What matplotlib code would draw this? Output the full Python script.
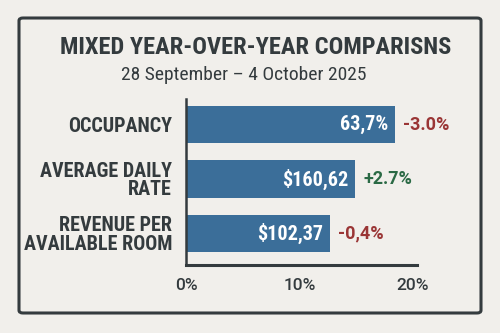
import matplotlib
matplotlib.use("Agg")
import matplotlib.pyplot as plt
from matplotlib import font_manager
from matplotlib.patches import FancyBboxPatch
from matplotlib.transforms import ScaledTranslation

categories = ["OCCUPANCY", "AVERAGE DAILY\nRATE", "REVENUE PER\nAVAILABLE ROOM"]
bar_lengths = [18.4, 14.9, 12.7]
value_labels = ["63,7%", "$160,62", "$102,37"]
change_labels = ["-3.0%", "+2.7%", "-0,4%"]
change_signs = [-1, 1, -1]
xticks = [0, 10, 20]
xtick_labels = ["0%", "10%", "20%"]
title = "MIXED YEAR-OVER-YEAR COMPARISNS"
subtitle = "28 September \u2013 4 October 2025"

names = {f.name for f in font_manager.fontManager.ttflist}
def pick(prefs):
    for p in prefs:
        if p in names:
            return p
    return "DejaVu Sans"
cond = pick(["Roboto Condensed", "Fira Sans Condensed", "IBM Plex Sans Condensed",
             "Barlow Semi Condensed", "PT Sans Narrow", "Archivo Narrow",
             "Liberation Sans Narrow"])
reg = pick(["Roboto", "Noto Sans"])

BG = "#f1efeb"
DARK = "#343b3e"
BLUE = "#3b6e99"
RED = "#9a3535"
GREEN = "#2b6a45"

fig = plt.figure(figsize=(5, 3.33), dpi=100, facecolor=BG)
frame = FancyBboxPatch((19/500, 1-313/333), (481-19)/500, (313-18)/333,
                       boxstyle="round,pad=0,rounding_size=0.008",
                       transform=fig.transFigure, fill=False, edgecolor=DARK, linewidth=2.2)
fig.patches.append(frame)

fig.text(0.512, 1-47.5/333, title, ha="center", va="center", fontsize=17.6,
         fontweight="bold", family=cond, color=DARK)
fig.text(0.488, 1-74.5/333, subtitle, ha="center", va="center", fontsize=14,
         family=cond, color=DARK)

ax = fig.add_axes([186/500, 68/333, (417-186)/500, (234-68)/333])
ax.set_facecolor(BG)
ypos = list(range(len(categories)))
ax.barh(ypos, bar_lengths, height=0.69, color=BLUE, left=0)
ax.set_xlim(0, 20.35)
ax.set_ylim(2.58, -0.47)
ax.set_yticks(ypos)
ax.set_yticklabels(categories, fontsize=14.5, fontweight="bold", family=cond,
                   color=DARK, linespacing=0.95)
ax.set_xticks(xticks)
ax.set_xticklabels(xtick_labels, fontsize=12.5, family=reg, fontweight="medium", color=DARK)
off = ScaledTranslation(3/100, 0, fig.dpi_scale_trans)
for lab in ax.get_xticklabels():
    lab.set_transform(lab.get_transform() + off)
ax.tick_params(axis="both", length=0)
ax.tick_params(axis="y", pad=10)
ax.tick_params(axis="x", pad=9)
for s in ["top", "right"]:
    ax.spines[s].set_visible(False)
ax.spines["left"].set_color(DARK)
ax.spines["bottom"].set_color(DARK)
ax.spines["left"].set_linewidth(1.8)
ax.spines["bottom"].set_linewidth(2.2)

for y, v, vl, cl, sg in zip(ypos, bar_lengths, value_labels, change_labels, change_signs):
    ax.text(v - 0.6, y, vl, ha="right", va="center", color="white",
            fontsize=14.5, fontweight="bold", family=cond)
    ax.text(v + 0.7, y, cl, ha="left", va="center", color=(GREEN if sg > 0 else RED),
            fontsize=13, fontweight="bold", family=reg)

fig.savefig("out.png", dpi=100, facecolor=BG)
